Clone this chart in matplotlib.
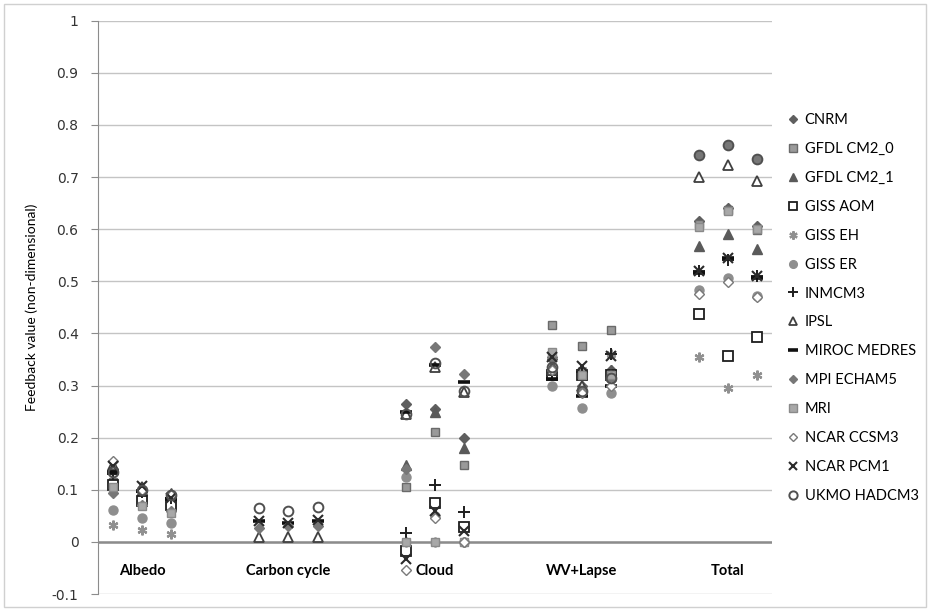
import numpy as np
import matplotlib.pyplot as plt
from matplotlib.patches import Rectangle

# x slots: three per feedback group
x_pos = [1, 2, 3, 6, 7, 8, 11, 12, 13, 16, 17, 18, 21, 22, 23]
categories = ["Albedo", "Carbon cycle", "Cloud", "WV+Lapse", "Total"]
cat_x = [2, 7, 12, 17, 22]
nan = np.nan

# values per model: Albedo x3, Carbon cycle x3, Cloud x3, WV+Lapse x3, Total x3
cnrm = [0.140, 0.090, 0.080, nan, nan, nan, 0.265, 0.255, 0.200, 0.350, 0.300, 0.330, 0.615, 0.640, 0.606]
gfdl_cm2_0 = [0.115, 0.085, 0.072, nan, nan, nan, 0.105, 0.210, 0.148, 0.416, 0.376, 0.406, 0.610, 0.636, 0.598]
gfdl_cm2_1 = [0.140, 0.100, 0.093, nan, nan, nan, 0.148, 0.250, 0.180, 0.340, 0.295, 0.330, 0.567, 0.590, 0.561]
giss_aom = [0.110, 0.078, 0.070, nan, nan, nan, -0.018, 0.075, 0.028, 0.320, 0.320, 0.320, 0.437, 0.357, 0.393]
giss_eh = [0.032, 0.022, 0.016, nan, nan, nan, 0.000, 0.000, 0.000, 0.360, 0.330, 0.360, 0.355, 0.295, 0.321]
giss_er = [0.062, 0.045, 0.037, nan, nan, nan, 0.125, 0.050, 0.000, 0.300, 0.256, 0.286, 0.483, 0.506, 0.472]
inmcm3 = [0.130, 0.095, 0.085, nan, nan, nan, 0.018, 0.110, 0.057, 0.320, 0.325, 0.360, 0.520, 0.540, 0.510]
ipsl = [0.148, 0.105, 0.090, 0.010, 0.010, 0.010, 0.245, 0.335, 0.288, 0.330, 0.300, 0.320, 0.700, 0.723, 0.692]
miroc = [0.135, 0.098, 0.083, 0.040, 0.037, 0.040, 0.250, 0.340, 0.306, 0.313, 0.280, 0.300, 0.515, 0.545, 0.507]
mpi = [0.093, 0.070, 0.060, 0.027, 0.030, 0.030, 0.140, 0.373, 0.322, 0.355, 0.290, 0.310, 0.742, 0.761, 0.735]
mri = [0.105, 0.068, 0.055, nan, nan, nan, 0.000, 0.000, 0.000, 0.365, 0.320, 0.320, 0.605, 0.635, 0.600]
ncar_ccsm3 = [0.156, 0.100, 0.090, nan, nan, nan, -0.053, 0.046, 0.000, 0.330, 0.285, 0.300, 0.476, 0.498, 0.470]
ncar_pcm1 = [0.145, 0.108, 0.085, 0.040, 0.037, 0.042, -0.033, 0.060, 0.020, 0.355, 0.337, 0.357, 0.520, 0.545, 0.510]
ukmo = [0.135, 0.100, 0.090, 0.065, 0.060, 0.066, 0.245, 0.343, 0.290, 0.335, 0.290, 0.315, 0.742, 0.761, 0.735]

models = [
    ("CNRM", cnrm, dict(marker="D", ms=5, mfc="#5f5f5f", mec="#5f5f5f")),
    ("GFDL CM2_0", gfdl_cm2_0, dict(marker="s", ms=6, mfc="#9a9a9a", mec="#6a6a6a")),
    ("GFDL CM2_1", gfdl_cm2_1, dict(marker="^", ms=6.5, mfc="#5a5a5a", mec="#5a5a5a")),
    ("GISS AOM", giss_aom, dict(marker="s", ms=6.5, mfc="white", mec="#1e1e1e", mew=1.3)),
    ("GISS EH", giss_eh, dict(marker=(6, 2, 0), ms=7, mfc="#909090", mec="#909090", mew=1.6)),
    ("GISS ER", giss_er, dict(marker="o", ms=6.5, mfc="#8e8e8e", mec="#8e8e8e")),
    ("INMCM3", inmcm3, dict(marker="+", ms=8, mfc="#1e1e1e", mec="#1e1e1e", mew=1.4)),
    ("IPSL", ipsl, dict(marker="^", ms=6.5, mfc="white", mec="#404040", mew=1.3)),
    ("MIROC MEDRES", miroc, dict(marker="_", ms=9, mfc="#101010", mec="#101010", mew=2.6)),
    ("MPI ECHAM5", mpi, dict(marker="D", ms=5, mfc="#777777", mec="#777777")),
    ("MRI", mri, dict(marker="s", ms=6, mfc="#a8a8a8", mec="#8a8a8a")),
    ("NCAR CCSM3", ncar_ccsm3, dict(marker="D", ms=5, mfc="white", mec="#7a7a7a", mew=1.0)),
    ("NCAR PCM1", ncar_pcm1, dict(marker="x", ms=6.5, mfc="#2a2a2a", mec="#2a2a2a", mew=1.5)),
    ("UKMO HADCM3", ukmo, dict(marker="o", ms=7, mfc="none", mec="#505050", mew=1.4)),
]

fig = plt.figure(figsize=(9.3, 6.1), dpi=100)
ax = fig.add_axes([98 / 930, 1 - 594 / 610, 674 / 930, 573.3 / 610])

for name, vals, style in models:
    ax.plot(x_pos, vals, linestyle="none", label=name, **style)

ax.set_xlim(0.5, 23.5)
ax.set_ylim(-0.1, 1.0)
ax.set_yticks(np.round(np.arange(-0.1, 1.01, 0.1), 1))
ax.set_yticklabels(["-0.1", "0", "0.1", "0.2", "0.3", "0.4", "0.5", "0.6", "0.7", "0.8", "0.9", "1"])
ax.set_xticks([])
ax.yaxis.grid(True, color="#c4c4c4", linewidth=1.0)
ax.set_axisbelow(True)
ax.axhline(0, color="#8c8c8c", linewidth=1.8, zorder=1.5)
for s in ["top", "right", "bottom"]:
    ax.spines[s].set_visible(False)
ax.spines["left"].set_color("#8c8c8c")
ax.tick_params(axis="y", direction="out", length=5, color="#8c8c8c", pad=9,
               labelsize=10, labelcolor="#333333")

for cx, cname in zip(cat_x, categories):
    ax.text(cx, -0.055, cname, ha="center", va="center", fontsize=10.5,
            fontweight="bold", family="Lato")

ax.set_ylabel("Feedback value (non-dimensional)", family="Lato", fontsize=10)
ax.yaxis.set_label_coords(-0.089, 0.5)

fig.legend(loc="center left", bbox_to_anchor=(787 / 930, 1 - 308 / 610),
           frameon=False, prop={"family": "Lato", "size": 10.5},
           handlelength=0.8, handletextpad=0.4, labelspacing=1.02,
           borderpad=0, borderaxespad=0, numpoints=1, markerscale=0.85)

fig.patches.append(Rectangle((4 / 930, 3 / 610), 922 / 930, 603 / 610,
                             transform=fig.transFigure, fill=False,
                             edgecolor="#d0d0d0", linewidth=1))

plt.savefig("out.png", dpi=100)
plt.close()
